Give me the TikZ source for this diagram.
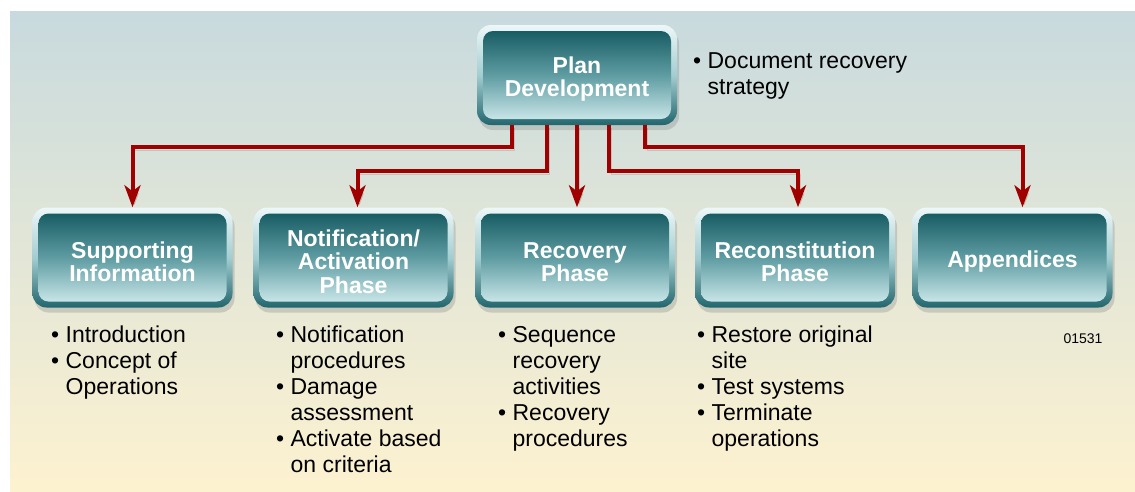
\documentclass[tikz,border=0pt]{standalone}
\usepackage{fontspec}
\setmainfont{Liberation Sans}
\usepackage{tikz}
\usetikzlibrary{arrows.meta}
\usetikzlibrary{shadows}
\definecolor{bgTop}{HTML}{C8DADE}
\definecolor{bgBottom}{HTML}{FDF2D0}
\definecolor{frameTop}{HTML}{EEF7F8}
\definecolor{frameMid}{HTML}{A3CDD1}
\definecolor{frameBottom}{HTML}{21666D}
\definecolor{bodyTop}{HTML}{0F545B}
\definecolor{bodyMid}{HTML}{5E9CA2}
\definecolor{bodyBottom}{HTML}{D6EFF1}
\definecolor{flowColor}{HTML}{A00000}
\newcommand{\cont}{\hphantom{\textbullet\ }}
\newcommand{\boxstrut}{\rule{0pt}{25pt}}

\begin{document}
\begin{tikzpicture}[x=1pt, y=-1pt,
    phase/.style={minimum width=200pt, minimum height=100pt, inner sep=0pt,
      rounded corners=14pt, top color=frameTop, bottom color=frameBottom, middle color=frameMid,
      drop shadow={shadow xshift=2pt, shadow yshift=-5pt, opacity=0.3},
      path picture={\shade[top color=bodyTop, bottom color=bodyBottom, middle color=bodyMid, rounded corners=10pt]
        ([shift={(6pt,-6pt)}]path picture bounding box.north west) rectangle
        ([shift={(-6pt,6pt)}]path picture bounding box.south east);},
      text=white, align=center, font=\fontsize{23}{23.5}\selectfont\bfseries},
    bullets/.style={anchor=north west, inner sep=0pt, align=left, font=\fontsize{23}{26}\selectfont},
    flow/.style={draw=flowColor, line width=4pt, -{Stealth[length=22pt, width=16pt, inset=6pt]},
      preaction={draw=black, opacity=0.12, transform canvas={xshift=2pt, yshift=-3pt}}}]
          \useasboundingbox (0,0) rectangle (1135,491);
          \shade[top color=bgTop, bottom color=bgBottom] (10,11) rectangle (1135,491);
          % boxes
          \node[phase] (plan) at (577,75) {\boxstrut Plan\\Development};
          \node[phase] (supp) at (132.5,257.5) {\boxstrut Supporting\\Information};
          \node[phase] (notif) at (353.5,257.5) {\boxstrut Notification/\\Activation\\Phase};
          \node[phase] (recov) at (575,257.5) {\boxstrut Recovery\\Phase};
          \node[phase] (recon) at (795,257.5) {\boxstrut Reconstitution\\Phase};
          \node[phase] (appx) at (1012.5,257.5) {\boxstrut Appendices};
          % bullet lists
          \node[bullets] (planList) at (693,52) {\textbullet\ Document recovery\\\cont strategy};
          \node[bullets] (suppList) at (51,326) {\textbullet\ Introduction\\\textbullet\ Concept of\\\cont Operations};
          \node[bullets] (notifList) at (276,326) {\textbullet\ Notification\\\cont procedures\\\textbullet\ Damage\\\cont assessment\\\textbullet\ Activate based\\\cont on criteria};
          \node[bullets] (recovList) at (498,326) {\textbullet\ Sequence\\\cont recovery\\\cont activities\\\textbullet\ Recovery\\\cont procedures};
          \node[bullets] (reconList) at (697,326) {\textbullet\ Restore original\\\cont site\\\textbullet\ Test systems\\\textbullet\ Terminate\\\cont operations};
          \node[font=\fontsize{14}{16}\selectfont] (figNum) at (1083,339) {01531};
          % arrows
          \draw[flow] ([xshift=-65pt]plan.south) -- ++(0,22) -| (supp.north);
          \draw[flow] ([xshift=-30pt]plan.south) -- ++(0,46) -| ([xshift=4pt]notif.north);
          \draw[flow] (plan.south) -- (plan.south |- recov.north);
          \draw[flow] ([xshift=32pt]plan.south) -- ++(0,46) -| ([xshift=3pt]recon.north);
          \draw[flow] ([xshift=68pt]plan.south) -- ++(0,22) -| ([xshift=10pt]appx.north);
        \end{tikzpicture}
\end{document}
